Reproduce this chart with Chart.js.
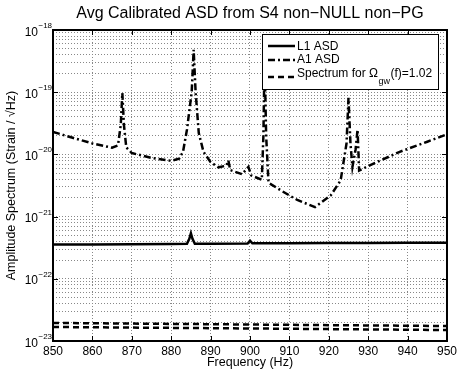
<!DOCTYPE html>
<html>
<head>
<meta charset="utf-8">
<script src="https://cdn.jsdelivr.net/npm/chart.js@4"></script>
<style>
  html, body { margin: 0; padding: 0; background: #fff; }
  canvas { display: block; }
</style>
</head>
<body>
<canvas id="asdChart" width="460" height="373"></canvas>
<script>
// values
const freqL1 = [850, 860, 870, 880, 884, 884.6, 885, 885.4, 886, 890, 899.4, 900, 900.6, 910, 920, 930, 940, 950];
const asdL1 = [3.55e-22, 3.57e-22, 3.6e-22, 3.62e-22, 3.65e-22, 4.4e-22, 5.4e-22, 4.4e-22, 3.66e-22, 3.67e-22, 3.7e-22, 4.1e-22, 3.72e-22, 3.74e-22, 3.76e-22, 3.78e-22, 3.8e-22, 3.8e-22];

const freqA1 = [850, 855, 860, 865, 866.5, 867.2, 867.6, 868, 868.6, 870, 875, 880, 882, 883, 884, 885.2, 885.7, 886.2, 887, 888.2, 890, 892, 894, 894.5, 895, 898, 899.6, 900.3, 903, 903.4, 903.7, 904.1, 904.7, 908, 912, 916.5, 920.5, 923, 924.5, 925, 925.5, 926, 926.8, 927.3, 927.7, 930, 938, 945, 950];
const asdA1 = [2.3e-20, 1.85e-20, 1.5e-20, 1.28e-20, 1.4e-20, 3e-20, 9.7e-20, 3e-20, 1.3e-20, 1.05e-20, 8.8e-21, 7.9e-21, 8.5e-21, 1.1e-20, 2.5e-20, 1e-19, 4.8e-19, 1e-19, 2.2e-20, 1.1e-20, 7.5e-21, 6.2e-21, 6.6e-21, 8e-21, 5.6e-21, 4.8e-21, 6.3e-21, 4.6e-21, 3.9e-21, 2e-20, 3.5e-19, 2e-20, 3.5e-21, 2.6e-21, 1.85e-21, 1.42e-21, 2.2e-21, 3.8e-21, 1.5e-20, 8.1e-20, 1.5e-20, 6.3e-21, 1.2e-20, 2.5e-20, 5.5e-21, 6.5e-21, 1.1e-20, 1.6e-20, 2.1e-20];

const freqSpec = [850, 900, 950];
const specUpper = [1.95e-23, 1.84e-23, 1.74e-23];
const specLower = [1.68e-23, 1.59e-23, 1.5e-23];

const xTicks = [850, 860, 870, 880, 890, 900, 910, 920, 930, 940, 950];
const decades = [-23, -22, -21, -20, -19, -18];

const FONT = '"Liberation Sans", Arial, Helvetica, sans-serif';

function pts(xs, ys) {
  return xs.map((f, i) => ({x: f, y: ys[i]}));
}

const yGrid = [];
decades.forEach(e => {
  if (e === -18) { yGrid.push(1e-18); return; }
  for (let m = 1; m <= 9; m++) yGrid.push(m * Math.pow(10, e));
});

const matlabAxes = {
  id: 'matlabAxes',
  afterDatasetsDraw(chart) {
    const {ctx, chartArea: a, scales: {x, y}} = chart;
    const seg = (x1, y1, x2, y2) => { ctx.beginPath(); ctx.moveTo(x1, y1); ctx.lineTo(x2, y2); ctx.stroke(); };
    ctx.save();
    ctx.strokeStyle = '#000';
    ctx.fillStyle = '#000';
    ctx.setLineDash([]);

    // inward ticks
    ctx.lineWidth = 1;
    xTicks.forEach(v => {
      const px = Math.round(x.getPixelForValue(v)) + 0.5;
      seg(px, a.bottom, px, a.bottom - 5);
      seg(px, a.top, px, a.top + 5);
    });
    decades.forEach(e => {
      const py = Math.round(y.getPixelForValue(Math.pow(10, e))) + 0.5;
      seg(a.left, py, a.left + 5, py);
      seg(a.right, py, a.right - 5, py);
    });

    // frame
    ctx.lineWidth = 2;
    ctx.strokeRect(a.left, a.top, a.right - a.left, a.bottom - a.top);

    // y tick labels 10^n
    decades.forEach(e => {
      const py = y.getPixelForValue(Math.pow(10, e));
      ctx.font = '12px ' + FONT;
      ctx.textAlign = 'right';
      ctx.textBaseline = 'alphabetic';
      ctx.fillText('10', 38, py + 5.5);
      ctx.font = '8px ' + FONT;
      ctx.textAlign = 'left';
      ctx.fillText('\u2212' + (-e), 38.5, py - 2);
    });

    // title
    ctx.font = '16px ' + FONT;
    ctx.textAlign = 'center';
    ctx.textBaseline = 'middle';
    ctx.fillText('Avg Calibrated ASD from S4 non\u2212NULL non\u2212PG', (a.left + a.right) / 2, 14);

    // legend box
    const bx = 262, by = 34, bw = 176, bh = 55;
    ctx.fillStyle = '#fff';
    ctx.fillRect(bx, by, bw, bh);
    ctx.lineWidth = 1;
    ctx.strokeStyle = '#000';
    ctx.strokeRect(bx + 0.5, by + 0.5, bw, bh);
    const ds = chart.data.datasets;
    const rows = [{d: ds[0], y: 46}, {d: ds[1], y: 60}, {d: ds[2], y: 77}];
    rows.forEach(r => {
      ctx.lineWidth = r.d.borderWidth;
      ctx.setLineDash(r.d.borderDash || []);
      seg(268, r.y, 295, r.y);
    });
    ctx.setLineDash([]);
    ctx.fillStyle = '#000';
    ctx.textAlign = 'left';
    ctx.textBaseline = 'middle';
    ctx.font = '12px ' + FONT;
    ctx.fillText(ds[0].label, 297, 47);
    ctx.fillText(ds[1].label, 297, 60);
    const s1 = 'Spectrum for \u03A9';
    ctx.fillText(s1, 297, 74);
    let tx = 297 + ctx.measureText(s1).width;
    ctx.font = '9px ' + FONT;
    ctx.fillText('gw', tx + 0.5, 82);
    tx += ctx.measureText('gw').width + 1;
    ctx.font = '12px ' + FONT;
    ctx.fillText('(f)=1.02', tx, 74);
    ctx.restore();
  }
};

new Chart(document.getElementById('asdChart'), {
  type: 'line',
  data: {
    datasets: [{
      label: 'L1 ASD',
      data: pts(freqL1, asdL1),
      borderColor: '#000',
      borderWidth: 2.5,
      borderDash: []
    }, {
      label: 'A1 ASD',
      data: pts(freqA1, asdA1),
      borderColor: '#000',
      borderWidth: 2.5,
      borderDash: [7, 3, 2, 3]
    }, {
      label: 'Spectrum for \u03A9gw(f)=1.02',
      data: pts(freqSpec, specUpper),
      borderColor: '#000',
      borderWidth: 2.5,
      borderDash: [6, 4]
    }, {
      label: 'Spectrum (lower)',
      data: pts(freqSpec, specLower),
      borderColor: '#000',
      borderWidth: 2.5,
      borderDash: [6, 4]
    }]
  },
  options: {
    responsive: false,
    devicePixelRatio: 1,
    animation: false,
    elements: { point: { radius: 0 }, line: { tension: 0 } },
    layout: { padding: { top: 30, right: 13, left: 0, bottom: 0 } },
    plugins: { legend: { display: false }, tooltip: { enabled: false } },
    scales: {
      x: {
        type: 'linear',
        min: 850,
        max: 950,
        afterBuildTicks(s) { s.ticks = xTicks.map(v => ({value: v})); },
        afterFit(s) { s.height = 32; },
        ticks: { color: '#000', font: { family: FONT, size: 12 }, padding: 3, maxRotation: 0 },
        grid: { color: '#888', lineWidth: 1, drawTicks: false },
        border: { display: false, dash: [1, 2] },
        title: { display: true, text: 'Frequency (Hz)', color: '#000', font: { family: FONT, size: 12.5 }, padding: { top: 0, bottom: 2.5 } }
      },
      y: {
        type: 'logarithmic',
        min: 1e-23,
        max: 1e-18,
        afterBuildTicks(s) { s.ticks = yGrid.map(v => ({value: v})); },
        afterFit(s) { s.width = 53; },
        ticks: { display: false },
        grid: { color: '#888', lineWidth: 1, drawTicks: false },
        border: { display: false, dash: [1, 2] },
        title: { display: true, text: 'Amplitude Spectrum (Strain / \u221AHz)', color: '#000', font: { family: FONT, size: 12.5 }, padding: { top: 4, bottom: 0 } }
      }
    }
  },
  plugins: [matlabAxes]
});
</script>
</body>
</html>
